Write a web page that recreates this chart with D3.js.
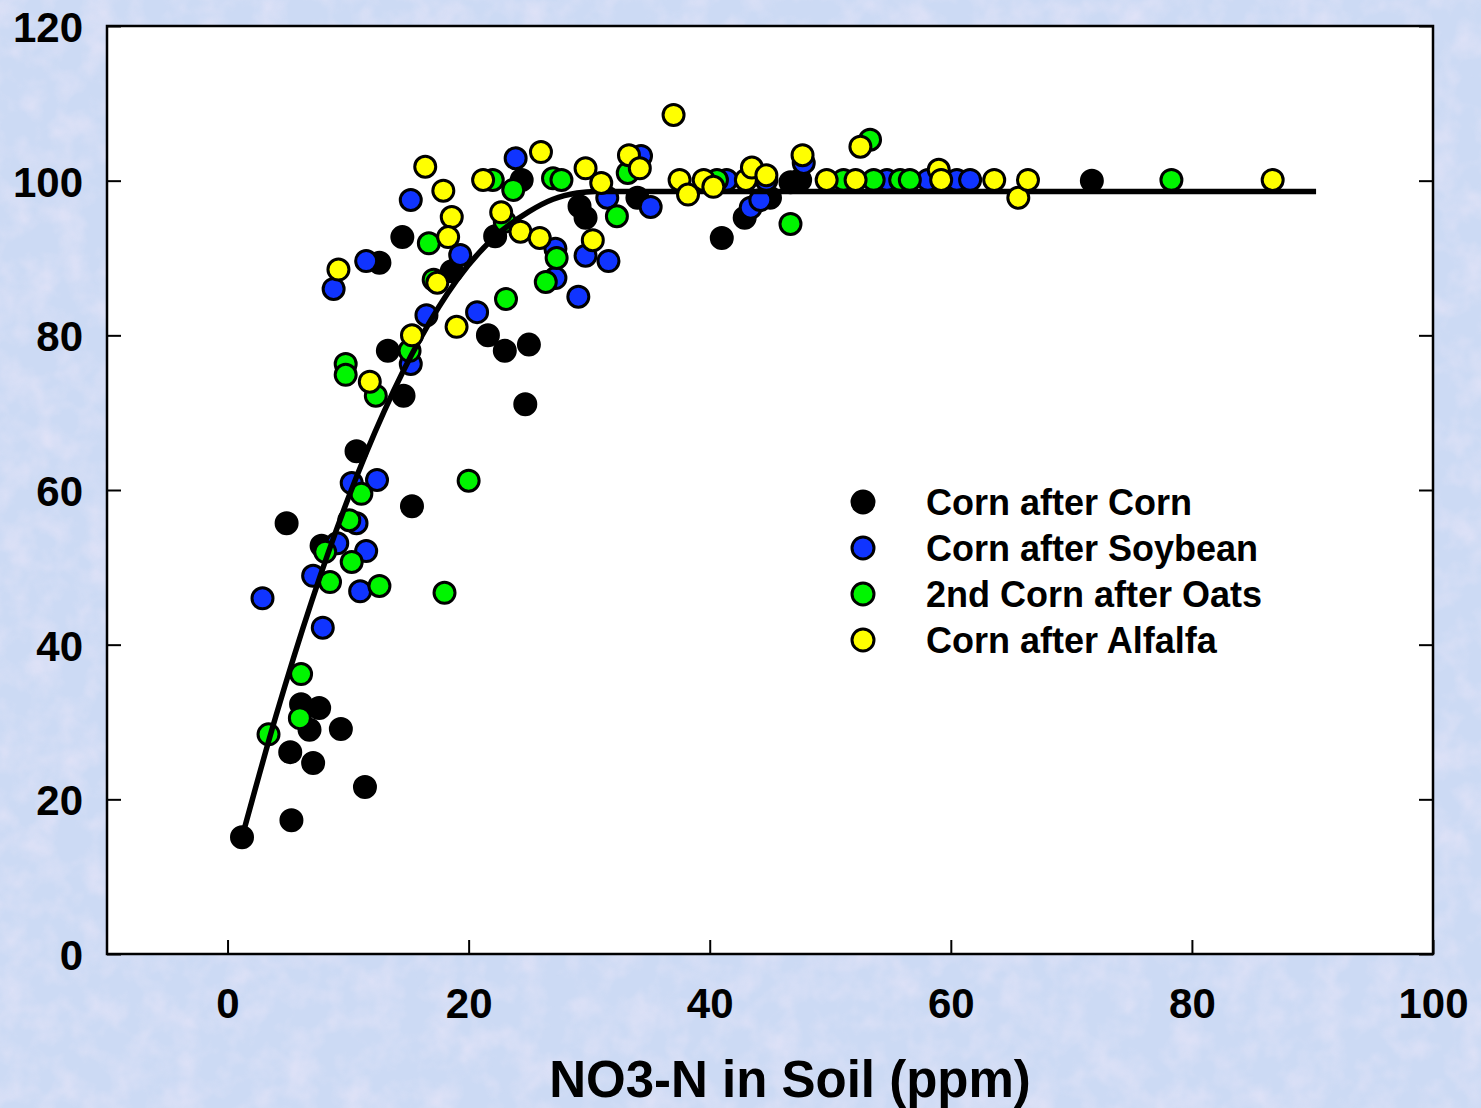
<!DOCTYPE html>
<html>
<head>
<meta charset="utf-8">
<script src="https://cdn.jsdelivr.net/npm/d3@7"></script>
<style>
    body { margin: 0; background: #cfdaf4; }
    svg { display: block; font-family: "Liberation Sans", Arial, sans-serif; font-weight: bold; }
</style>
</head>
<body>
<div id="chart"></div>
<script>
// data
const xTicks = [0, 20, 40, 60, 80, 100];
const yTicks = [0, 20, 40, 60, 80, 100, 120];
const seriesNames = ["Corn after Corn", "Corn after Soybean", "2nd Corn after Oats", "Corn after Alfalfa"];
const seriesColors = ["#000000", "#1034ff", "#00f500", "#ffff00"];

const ccX = [1.2, 5.3, 5.2, 7.1, 6.8, 6.1, 7.6, 9.4, 11.4, 4.9, 7.8, 15.3, 10.7, 14.6, 13.3, 14.5, 12.6, 18.6, 22.2, 21.6, 23.0, 25.0, 24.7, 24.4, 29.2, 29.7, 34.0, 41.0, 42.9, 45.0, 46.7, 47.5, 71.7];
const ccY = [15.1, 17.3, 26.1, 24.7, 29.0, 32.3, 31.8, 29.1, 21.6, 55.7, 52.8, 57.9, 65.0, 72.2, 78.0, 92.7, 89.4, 88.3, 92.8, 80.0, 78.0, 78.8, 71.1, 100.1, 96.7, 95.2, 97.8, 92.6, 95.2, 97.8, 99.8, 100.1, 100.0];

const csX = [2.9, 7.9, 7.1, 9.1, 11.0, 11.5, 10.7, 10.3, 12.4, 15.2, 16.5, 8.8, 11.5, 15.2, 19.3, 20.7, 23.9, 27.2, 29.1, 29.7, 31.6, 31.5, 34.3, 35.1, 27.2, 43.4, 44.2, 47.8, 41.4, 44.7, 54.7, 58.1, 60.5, 61.6];
const csY = [46.0, 42.2, 48.9, 53.1, 46.9, 52.1, 55.7, 60.9, 61.3, 76.3, 82.6, 86.0, 89.6, 97.5, 90.4, 83.0, 102.9, 91.2, 85.0, 90.3, 89.6, 97.8, 103.2, 96.6, 87.4, 96.5, 97.5, 102.3, 100.1, 100.1, 100.1, 100.1, 100.1, 100.1];

const coX = [3.4, 6.0, 6.1, 8.5, 10.3, 8.1, 10.1, 11.1, 12.6, 18.0, 20.0, 9.8, 9.8, 12.3, 15.1, 16.7, 17.1, 23.1, 23.7, 22.0, 26.4, 27.3, 27.0, 27.7, 32.3, 33.2, 46.7, 53.3, 78.3, 40.6, 51.1, 53.6, 55.8, 56.6, 23.0];
const coY = [28.4, 30.5, 36.2, 48.1, 50.7, 52.0, 56.1, 59.5, 47.6, 46.7, 61.2, 76.3, 74.9, 72.2, 78.0, 91.9, 87.2, 84.7, 98.8, 100.1, 86.9, 90.0, 100.3, 100.1, 95.4, 101.0, 94.4, 105.3, 100.1, 100.1, 100.1, 100.1, 100.1, 100.1, 94.7];

const caX = [9.2, 11.8, 15.3, 16.4, 17.9, 18.6, 18.3, 17.4, 19.0, 21.2, 22.7, 24.3, 26.0, 25.9, 29.7, 30.3, 31.0, 33.3, 34.2, 37.0, 37.5, 38.2, 39.5, 40.3, 43.0, 43.5, 44.7, 47.7, 49.7, 52.1, 52.5, 59.0, 59.2, 63.6, 65.6, 66.4, 86.7];
const caY = [88.5, 74.0, 80.0, 101.8, 98.7, 95.3, 92.7, 86.8, 81.1, 100.1, 95.9, 93.4, 103.7, 92.6, 101.6, 92.3, 99.7, 103.3, 101.6, 108.5, 100.1, 98.2, 100.1, 99.2, 100.1, 101.7, 100.7, 103.3, 100.1, 100.1, 104.4, 101.4, 100.1, 100.1, 97.8, 100.1, 100.1];

// fitted response curve (quadratic-plateau)
const fitX = [1.2, 4, 7, 10, 13, 16, 19, 22, 25, 27, 29, 30.5, 90.3];
const fitY = [15.1, 30.7, 45.7, 58.9, 70.2, 79.6, 87.1, 92.5, 96.0, 97.6, 98.4, 98.6, 98.6];

const W = 1481, H = 1108;
const plot = { left: 107, right: 1433, top: 26, bottom: 954 };

const svg = d3.select("#chart").append("svg").attr("width", W).attr("height", H);

// mottled background
const defs = svg.append("defs");
const filt = defs.append("filter").attr("id", "mottle").attr("x", 0).attr("y", 0).attr("width", "100%").attr("height", "100%");
filt.append("feTurbulence").attr("type", "fractalNoise").attr("baseFrequency", "0.035").attr("numOctaves", 3).attr("seed", 4);
filt.append("feColorMatrix").attr("type", "matrix")
    .attr("values", "0 0 0 0 0.93  0 0 0 0 0.84  0 0 0 0 0.96  1.4 0 0 0 -0.55");
svg.append("rect").attr("width", W).attr("height", H).attr("fill", "#ccdaf4");
svg.append("rect").attr("width", W).attr("height", H).attr("filter", "url(#mottle)").attr("opacity", 0.6);

const x = d3.scaleLinear().domain([-10, 100]).range([plot.left, plot.right]);
const y = d3.scaleLinear().domain([0, 120]).range([plot.bottom, plot.top]);

svg.append("rect")
    .attr("x", plot.left).attr("y", plot.top)
    .attr("width", plot.right - plot.left).attr("height", plot.bottom - plot.top)
    .attr("fill", "#fff");

// axes with inward ticks
const xAxis = svg.append("g").attr("transform", `translate(0,${plot.bottom})`)
    .call(d3.axisBottom(x).tickValues(xTicks).tickSize(-14).tickFormat(d3.format("d")));
const yAxis = svg.append("g").attr("transform", `translate(${plot.left},0)`)
    .call(d3.axisLeft(y).tickValues(yTicks).tickSize(-14).tickFormat(d3.format("d")));
svg.append("g").attr("transform", `translate(${plot.right},0)`)
    .call(d3.axisRight(y).tickValues(yTicks).tickSize(-14).tickFormat(""));
svg.selectAll(".domain").remove();
svg.selectAll(".tick line").attr("stroke", "#000").attr("stroke-width", 2);
xAxis.selectAll("text").attr("font-size", 42).attr("font-weight", "bold").attr("fill", "#000").attr("dy", null).attr("y", 64);
yAxis.selectAll("text").attr("font-size", 42).attr("font-weight", "bold").attr("fill", "#000").attr("dy", "0.37em").attr("x", -24);

svg.append("rect")
    .attr("x", plot.left).attr("y", plot.top)
    .attr("width", plot.right - plot.left).attr("height", plot.bottom - plot.top)
    .attr("fill", "none").attr("stroke", "#000").attr("stroke-width", 2.5);

svg.append("text")
    .attr("x", 790).attr("y", 1097)
    .attr("text-anchor", "middle").attr("font-size", 51)
    .text("NO3-N in Soil (ppm)");

// points
const series = [
    { xs: ccX, ys: ccY },
    { xs: csX, ys: csY },
    { xs: coX, ys: coY },
    { xs: caX, ys: caY },
];
const r = 10.5;

function drawPoints(i) {
    const s = series[i];
    svg.append("g").selectAll("circle")
        .data(s.xs.map((v, j) => [v, s.ys[j]]))
        .enter()
        .append("circle")
        .attr("cx", (d) => x(d[0]))
        .attr("cy", (d) => y(d[1]))
        .attr("r", r)
        .attr("fill", seriesColors[i])
        .attr("stroke", "#000")
        .attr("stroke-width", 3);
}
drawPoints(0);
drawPoints(1);
drawPoints(2);

const line = d3.line().x((d) => x(d[0])).y((d) => y(d[1])).curve(d3.curveMonotoneX);
svg.append("path")
    .datum(fitX.map((v, j) => [v, fitY[j]]))
    .attr("d", line)
    .attr("fill", "none")
    .attr("stroke", "#000")
    .attr("stroke-width", 5.5);

drawPoints(3);

// legend
const legend = svg.append("g").attr("transform", "translate(863,502)");
seriesNames.forEach((name, i) => {
    legend.append("circle")
        .attr("cx", 0).attr("cy", i * 46)
        .attr("r", 11)
        .attr("fill", seriesColors[i])
        .attr("stroke", "#000").attr("stroke-width", 3);
    legend.append("text")
        .attr("x", 63).attr("y", i * 46)
        .attr("dy", "0.36em")
        .attr("font-size", 36)
        .text(name);
});
</script>
</body>
</html>
